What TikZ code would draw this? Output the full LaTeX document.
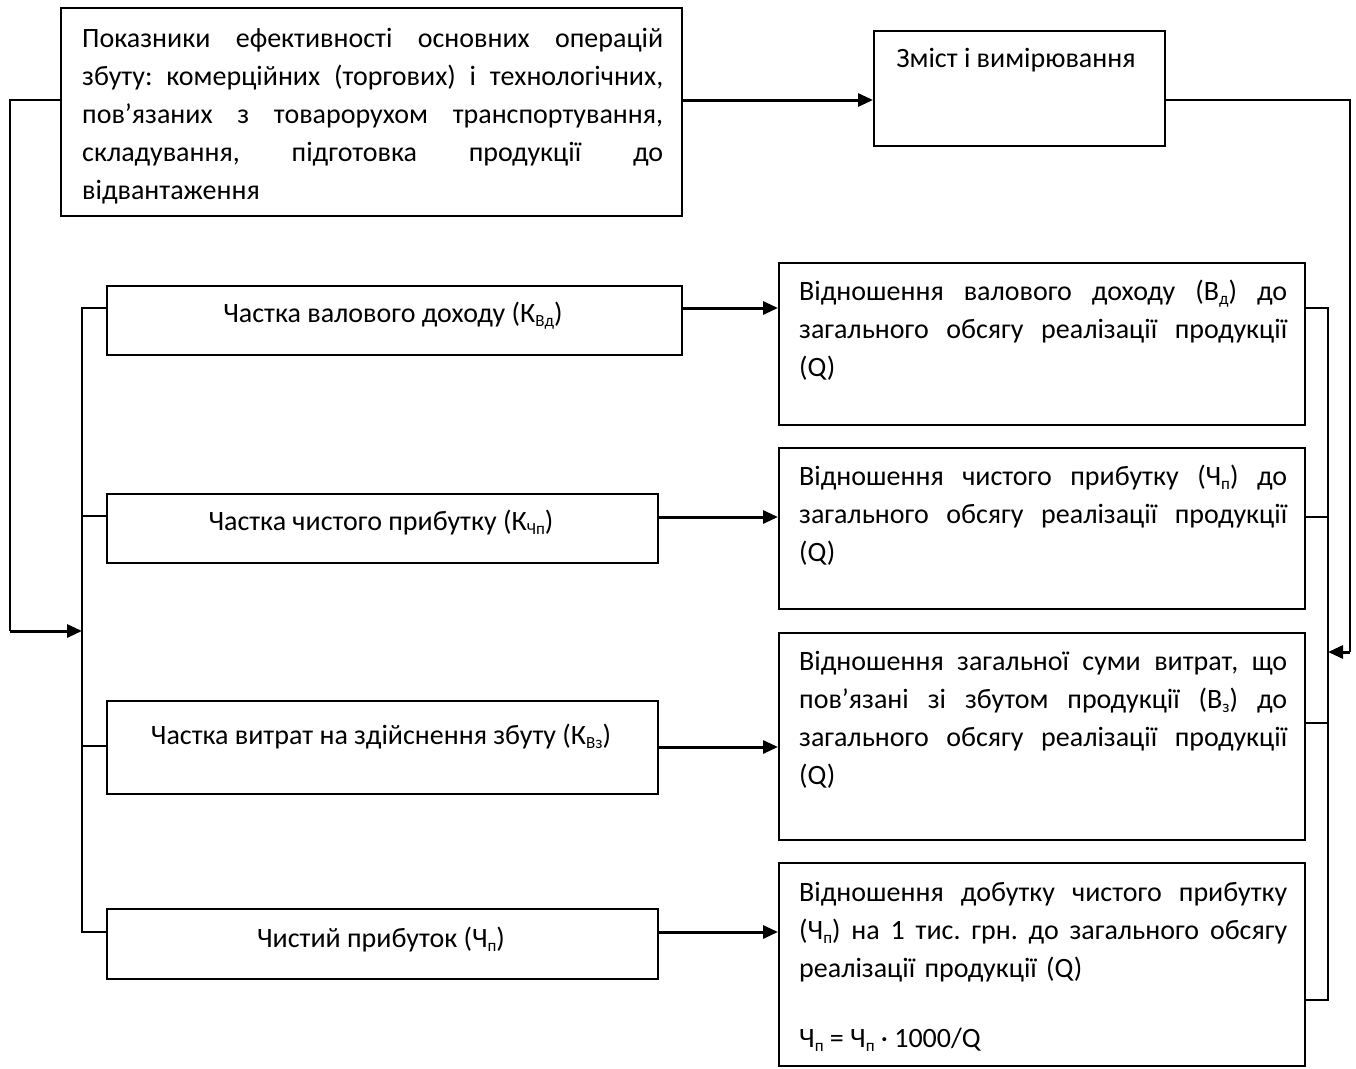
\documentclass[tikz,border=0pt]{standalone}
\usepackage{fontspec}
\setmainfont{Carlito}
\usetikzlibrary{arrows.meta}
\newcommand{\lsub}[1]{\raisebox{-4pt}{\fontsize{17}{17}\selectfont #1}}
\newcommand{\jl}[2]{\leavevmode\hbox to #1{\spaceskip=\fontdimen2\font plus 1fil\relax #2}}
\frenchspacing
\begin{document}
\begin{tikzpicture}[x=1pt,y=-1pt,
  boxn/.style={draw, line width=1.5pt, inner sep=0pt, anchor=north west},
  txt/.style={inner sep=0pt, anchor=base west, align=left, font=\fontsize{28}{38}\selectfont\frenchspacing},
  ctxt/.style={inner sep=0pt, anchor=base, font=\fontsize{28}{38}\selectfont},
  thinl/.style={line width=1.5pt},
  arr/.style={line width=3pt, -{Triangle[length=15pt,width=13pt]}}
]
\fill[white] (0,0) rectangle (1356,1068);
\useasboundingbox (0,0) rectangle (1356,1068);

% boxes
\node[boxn, minimum width=621pt, minimum height=208pt] (top) at (60,7) {};
\node[boxn, minimum width=291pt, minimum height=115pt] (zm) at (873,30) {};
\node[boxn, minimum width=575pt, minimum height=69pt] (l1) at (106,285) {};
\node[boxn, minimum width=551pt, minimum height=69pt] (l2) at (106,493) {};
\node[boxn, minimum width=551pt, minimum height=93pt] (l3) at (106,700) {};
\node[boxn, minimum width=551pt, minimum height=70pt] (l4) at (106,908) {};
\node[boxn, minimum width=526pt, minimum height=162pt] (r1) at (778,262) {};
\node[boxn, minimum width=526pt, minimum height=161pt] (r2) at (778,447) {};
\node[boxn, minimum width=526pt, minimum height=207pt] (r3) at (778,632) {};
\node[boxn, minimum width=526pt, minimum height=203pt] (r4) at (778,862) {};

% texts
\node[txt, text width=581pt] (topt) at (82,47) {\jl{581pt}{Показники ефективності основних операцій}\\
\jl{581pt}{збуту: комерційних (торгових) і технологічних,}\\
\jl{581pt}{пов’язаних з товарорухом транспортування,}\\
\jl{581pt}{складування, підготовка продукції до}\\
відвантаження};
\node[ctxt] (zmt) at (1016,67) {Зміст і вимірювання};
\node[ctxt] (l1t) at (393,322) {Частка валового доходу (К\lsub{Вд})};
\node[ctxt] (l2t) at (381,530) {Частка чистого прибутку (К\lsub{Чп})};
\node[ctxt] (l3t) at (381,744) {Частка витрат на здійснення збуту (К\lsub{Вз})};
\node[ctxt] (l4t) at (381,947) {Чистий прибуток (Ч\lsub{п})};
\node[txt, text width=488pt] (r1t) at (799,300) {\jl{488pt}{Відношення валового доходу (В\lsub{д}) до}\\
\jl{488pt}{загального обсягу реалізації продукції}\\ (Q)};
\node[txt, text width=488pt] (r2t) at (799,485) {\jl{488pt}{Відношення чистого прибутку (Ч\lsub{п}) до}\\
\jl{488pt}{загального обсягу реалізації продукції}\\ (Q)};
\node[txt, text width=488pt] (r3t) at (799,670) {\jl{488pt}{Відношення загальної суми витрат, що}\\
\jl{488pt}{пов’язані зі збутом продукції (В\lsub{з}) до}\\
\jl{488pt}{загального обсягу реалізації продукції}\\ (Q)};
\node[txt, text width=488pt] (r4t) at (799,901) {\jl{488pt}{Відношення добутку чистого прибутку}\\
\jl{488pt}{(Ч\lsub{п}) на 1 тис. грн. до загального обсягу}\\
реалізації продукції (Q)};
\node[txt] (r4f) at (799,1047) {Ч\lsub{п} = Ч\lsub{п} · 1000/Q};

% helper coordinates
\coordinate (y100) at (0,100);
\coordinate (lc) at (10,631);
\coordinate (lbin) at (82,631);
\coordinate (lbt) at (82,308);
\coordinate (lbb) at (82,932);
\coordinate (rc) at (1350,652);
\coordinate (rbin) at (1328,652);
\coordinate (rbt) at (1328,308);
\coordinate (rbb) at (1328,1000);

% top connectors
\draw[arr] (top.east |- y100) -- (zm.west |- y100);
\draw[thinl] (top.west |- y100) -| (lc);
\draw[arr] (lc) -- (lbin);
\draw[thinl] (zm.east |- y100) -| (rc);
\draw[arr] (rc) -- (rbin);

% left bus
\draw[thinl] (l1.west |- lbt) -- (lbt) -- (lbb) -- (l4.west |- lbb);
\draw[thinl] (l2.west |- 0,516) -- (lbt |- 0,516);
\draw[thinl] (l3.west |- 0,746) -- (lbt |- 0,746);

% right bus
\draw[thinl] (r1.east |- rbt) -- (rbt) -- (rbb) -- (r4.east |- rbb);
\draw[thinl] (r2.east |- 0,517) -- (rbt |- 0,517);
\draw[thinl] (r3.east |- 0,723) -- (rbt |- 0,723);

% arrows left to right
\draw[arr] (l1.east |- 0,308) -- (r1.west |- 0,308);
\draw[arr] (l2.east |- 0,517) -- (r2.west |- 0,517);
\draw[arr] (l3.east |- 0,747) -- (r3.west |- 0,747);
\draw[arr] (l4.east |- 0,932) -- (r4.west |- 0,932);
\end{tikzpicture}
\end{document}
